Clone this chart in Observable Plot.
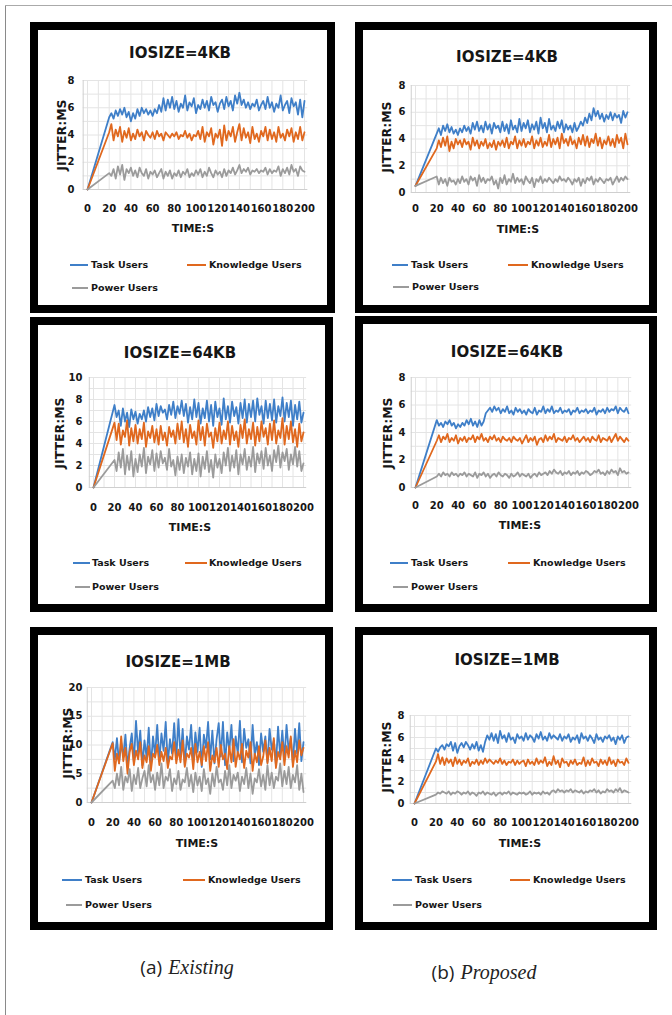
<!DOCTYPE html>
<html><head><meta charset="utf-8">
<script src="https://cdn.jsdelivr.net/npm/d3@7"></script>
<script src="https://cdn.jsdelivr.net/npm/@observablehq/plot@0.6"></script>
<style>
body{margin:0;background:#fff;}
#page{position:relative;width:672px;height:1015px;overflow:hidden;font-family:"DejaVu Sans",sans-serif;background:#fff;}
.rule{position:absolute;background:#8a8a8a;}
.panel{position:absolute;border:8px solid #000;box-sizing:border-box;background:#fff;}
.t{position:absolute;white-space:nowrap;font-weight:bold;color:#161616;line-height:1;}
.sw{position:absolute;height:2px;}
.plot{position:absolute;}
.plot svg text{font-weight:bold;}
.cap{position:absolute;white-space:nowrap;color:#222;font-size:19px;line-height:1;transform:translate(-50%,-50%);}
.cap .a{font-family:"Open Sans",sans-serif;}
.cap .b{font-family:"Liberation Serif",serif;font-style:italic;font-size:20px;}
</style></head>
<body><div id="page"></div>
<script>
// ---------- data ----------
const seriesNames = ["Task Users", "Knowledge Users", "Power Users"];
const xTicks = [0, 20, 40, 60, 80, 100, 120, 140, 160, 180, 200];
const ticks8 = [0, 2, 4, 6, 8];
const ticks10 = [0, 2, 4, 6, 8, 10];
const ticks20 = [0, 5, 10, 15, 20];
const panelTitles = ["IOSIZE=4KB", "IOSIZE=4KB", "IOSIZE=64KB", "IOSIZE=64KB", "IOSIZE=1MB", "IOSIZE=1MB"];
const xTitle = "TIME:S";
const yTitle = "JITTER:MS";
const captionA = ["(a)", "Existing"];
const captionB = ["(b)", "Proposed"];

// value at time 0 for each panel (Existing 4KB, Proposed 4KB, Existing 64KB, Proposed 64KB, Existing 1MB, Proposed 1MB)
const startValues = [0, 0.5, 0, 0, 0, 0];

// samples from t=20 to t=200 every 2 s
const ex4KB_task = [5.3,5.6,5.2,5.8,5.4,5.9,5.5,6.0,5.3,5.7,5.0,
 5.6,5.2,5.9,5.4,6.0,5.6,5.9,5.5,5.8,5.4, 5.9,5.6,6.2,5.7,6.7,5.8,6.6,6.0,6.8,5.9,
 6.5,5.7,6.3,6.0,6.9,5.8,6.4,6.1,6.7,5.6, 6.2,5.9,6.6,6.0,6.5,5.8,6.8,6.2,6.4,5.7,
 6.3,6.6,5.9,6.8,6.1,6.5,5.8,6.9,6.3,7.1, 6.2,6.6,6.0,6.4,5.9,6.3,6.1,6.6,5.8,6.2,
 6.5,5.9,6.8,6.0,6.4,5.7,6.3,6.0,6.9,5.8, 6.2,6.5,5.6,6.7,6.1,6.4,5.5,6.6,5.3,6.5];
const ex4KB_knowledge = [4.2,4.8,3.6,4.4,3.9,4.6,3.5,4.3,3.8,4.5,3.6,
 4.1,3.7,4.4,3.9,4.2,3.6,4.3,4.0,3.8,4.2, 3.7,4.3,3.9,4.1,3.6,4.2,4.0,3.8,4.1,3.9,
 4.2,3.7,4.0,3.9,4.3,3.8,4.1,3.6,4.0,3.9, 4.3,3.7,4.6,3.5,4.2,3.9,4.5,3.3,4.1,3.8,
 4.4,3.2,4.7,3.6,4.3,3.9,4.6,3.5,4.2,4.8, 3.6,4.5,3.8,4.2,3.4,4.6,3.7,4.1,3.5,4.3,
 3.9,4.6,3.6,4.4,3.7,4.2,3.5,4.6,3.8,4.1, 3.6,4.4,3.9,4.5,3.5,4.2,3.7,4.6,3.6,4.2];
const ex4KB_power = [1.2,1.0,1.5,0.8,1.7,1.1,1.8,0.7,1.5,1.2,1.6,
 1.0,1.4,0.9,1.6,1.2,1.0,1.5,0.8,1.3,1.1, 1.4,0.9,1.2,1.5,0.8,1.3,1.0,1.4,0.8,1.2,
 1.0,1.4,0.9,1.3,1.1,1.5,0.9,1.2,1.0,1.4, 1.1,1.5,0.9,1.3,1.0,1.6,1.2,0.9,1.4,1.1,
 1.3,0.9,1.5,1.0,1.4,1.2,1.6,1.1,1.4,1.8, 1.2,1.5,1.3,1.6,1.1,1.4,1.3,1.5,1.2,1.4,
 1.3,1.6,1.1,1.5,1.2,1.4,1.3,1.7,1.0,1.5, 1.2,1.6,1.1,1.8,1.3,1.5,1.0,1.7,1.4,1.3];

const pr4KB_task = [4.4,4.8,4.3,5.0,4.6,5.1,4.5,4.9,4.4,4.7,4.3,
 4.8,4.5,5.0,4.6,4.9,4.4,5.2,4.7,5.3,4.6, 5.0,4.5,5.3,4.7,5.1,4.4,5.2,4.8,5.0,4.5,
 5.3,4.6,5.1,4.4,5.4,4.7,5.0,4.5,5.5,4.6, 5.2,4.8,5.4,4.5,5.1,4.7,5.3,4.4,5.6,4.8,
 5.2,4.5,5.5,4.7,5.0,4.6,5.3,4.8,5.4,4.5, 5.1,4.7,5.0,4.5,5.2,4.6,4.9,5.3,5.0,5.6,
 5.2,5.9,5.4,6.3,5.7,6.1,5.5,5.9,5.3,5.8, 5.5,6.0,5.4,5.9,5.6,5.8,5.2,6.1,5.6,6.0];
const pr4KB_knowledge = [3.3,3.9,3.4,4.1,3.5,4.2,3.1,3.8,3.3,4.0,3.6,
 3.9,3.4,4.0,3.6,3.8,3.2,4.1,3.5,3.9,3.3, 3.8,3.5,4.0,3.3,3.7,3.4,3.9,3.2,3.8,3.5,
 3.9,3.4,4.1,3.3,3.8,3.6,4.2,3.3,3.9,3.5, 4.0,3.4,3.8,3.6,4.2,3.3,3.9,3.5,4.1,3.4,
 3.8,3.5,4.3,3.4,4.0,3.6,4.1,3.3,4.4,3.7, 4.0,3.5,4.2,3.6,3.9,3.3,4.1,3.6,4.3,3.5,
 4.2,3.4,4.0,3.7,4.4,3.5,4.1,3.3,3.9,3.6, 4.2,3.5,4.0,3.4,4.3,3.7,4.1,3.3,4.4,3.6];
const pr4KB_power = [1.2,0.6,1.1,0.7,1.0,0.5,1.1,0.8,0.9,0.6,1.0,
 0.7,1.2,0.8,1.0,0.6,1.2,0.9,1.1,0.5,1.3, 0.8,1.1,0.7,1.0,0.9,1.2,0.6,0.9,0.3,1.1,
 0.7,1.3,0.6,1.0,0.8,1.4,0.7,1.1,0.8,1.0, 0.6,1.2,0.9,0.7,1.1,0.4,1.0,0.8,1.2,0.7,
 1.0,0.8,1.1,0.9,0.7,1.0,0.8,1.2,0.9,1.0, 0.8,1.1,0.9,0.6,1.0,0.8,1.1,0.5,1.0,0.7,
 1.1,0.9,1.2,0.6,1.0,0.8,1.1,0.9,0.7,1.0, 0.9,1.1,0.6,0.9,1.2,0.8,1.1,0.9,1.2,1.0];

const ex64KB_task = [7.5,6.4,7.0,5.6,7.2,6.0,6.8,5.5,7.1,6.2,6.9,
 5.8,6.7,6.2,7.0,6.0,7.3,6.4,7.2,6.1,7.6, 6.5,7.4,6.8,7.1,6.2,7.5,6.6,7.8,6.3,7.4,
 6.7,7.9,6.5,7.6,5.9,7.3,6.2,8.0,6.4,7.7, 5.8,7.2,6.3,7.9,6.0,7.5,5.6,7.8,6.4,7.2,
 5.7,8.1,6.2,7.4,5.9,7.8,6.5,7.3,5.8,7.7, 6.3,8.0,5.9,7.6,6.4,7.9,6.0,8.1,6.6,7.4,
 5.8,7.9,6.3,7.6,6.1,8.0,5.9,7.4,6.5,8.2, 6.0,7.7,6.4,7.9,5.6,7.5,6.2,7.8,5.9,6.8];
const ex64KB_knowledge = [5.9,4.3,5.8,3.9,5.2,4.6,6.1,3.8,5.4,4.2,5.7,
 4.0,5.3,4.4,5.9,3.7,5.1,4.5,5.6,4.1,5.3, 3.9,5.6,4.3,5.0,3.8,5.5,4.6,5.2,4.0,5.8,
 4.4,6.0,4.1,5.3,3.7,5.7,4.5,5.1,3.9,6.1, 4.3,5.5,3.8,5.8,4.6,5.0,3.6,5.4,4.2,5.9,
 4.0,5.2,4.4,6.0,3.9,5.6,4.3,5.1,3.7,5.7, 4.5,6.2,4.0,5.3,4.4,5.9,3.8,5.5,4.2,6.0,
 4.6,5.4,3.9,5.8,4.3,6.1,4.0,5.2,4.5,6.3, 3.9,5.6,4.4,6.0,4.1,5.3,3.7,5.8,4.2,5.0];
const ex64KB_power = [2.5,1.5,3.2,1.8,3.5,1.2,2.9,1.6,3.3,1.0,2.6,
 1.4,3.0,1.9,3.6,1.3,2.8,2.1,3.4,1.5,3.1, 1.8,3.3,2.2,2.7,1.6,3.5,1.9,2.5,1.1,2.8,
 1.6,3.0,1.3,2.7,1.9,3.2,1.2,2.6,1.5,3.1, 1.0,2.8,1.7,3.3,1.4,2.5,0.9,3.0,1.8,2.6,
 1.3,3.2,2.0,3.6,1.5,2.9,1.8,3.4,1.2,3.0, 2.1,3.5,1.6,2.8,1.9,3.7,1.4,3.1,2.2,3.3,
 1.7,3.6,2.0,2.9,1.5,3.4,2.3,3.8,1.8,3.2, 2.4,3.5,1.6,3.0,2.1,3.7,1.9,3.3,1.5,2.2];

const pr64KB_task = [4.9,4.5,4.7,4.4,4.8,4.6,4.9,4.5,4.7,4.3,4.6,
 4.4,4.7,4.5,4.9,4.6,5.0,4.5,4.8,4.4,4.9, 4.5,4.8,5.4,5.6,5.8,5.5,5.9,5.6,5.8,5.4,
 5.7,5.5,5.9,5.4,5.6,5.3,5.8,5.5,5.7,5.4, 5.6,5.3,5.7,5.5,5.4,5.8,5.3,5.6,5.5,5.9,
 5.4,5.7,5.5,5.9,5.4,5.6,5.5,5.8,5.4,5.6, 5.5,5.7,5.3,5.6,5.5,5.8,5.4,5.6,5.5,5.7,
 5.4,5.6,5.5,5.8,5.3,5.6,5.5,5.7,5.4,5.8, 5.5,5.7,5.6,5.9,5.4,5.8,5.6,5.5,5.8,5.4];
const pr64KB_knowledge = [3.4,3.8,3.3,3.7,3.5,3.9,3.3,3.6,3.4,3.8,3.2,
 3.6,3.4,3.7,3.3,3.6,3.5,3.8,3.3,3.7,3.5, 3.9,3.4,3.6,3.3,3.7,3.5,3.8,3.4,3.6,3.3,
 3.7,3.5,3.4,3.6,3.3,3.7,3.5,3.4,3.6,3.2, 3.5,3.8,3.3,3.6,3.4,3.7,3.1,3.5,3.6,3.3,
 3.8,3.4,3.7,3.5,3.9,3.3,3.6,3.5,3.4,3.7, 3.3,3.6,3.5,3.8,3.4,3.6,3.3,3.5,3.7,3.4,
 3.6,3.3,3.7,3.5,3.4,3.8,3.3,3.6,3.5,3.4, 3.7,3.3,3.6,3.9,3.4,3.7,3.5,3.3,3.6,3.4];
const pr64KB_power = [0.8,1.0,0.8,1.1,0.9,1.0,0.8,1.1,0.9,1.0,0.8,
 1.0,0.9,1.1,0.8,1.0,0.9,0.8,1.1,0.7,1.0, 0.9,1.1,0.8,1.0,0.7,0.9,1.0,0.8,1.1,0.9,
 0.8,1.0,0.9,0.7,1.0,0.8,0.9,1.1,0.8,1.0, 0.9,0.8,1.0,0.7,0.9,1.0,0.8,1.1,0.9,1.0,
 1.1,0.9,1.2,1.0,1.3,1.1,1.0,1.2,0.9,1.1, 1.0,1.2,0.9,1.1,1.0,1.2,0.9,1.1,1.0,1.2,
 1.1,0.9,1.0,1.2,1.1,1.3,1.0,1.1,0.9,1.2, 1.0,1.3,1.1,1.2,0.9,1.4,1.1,1.2,1.0,1.1];

const ex1MB_task = [10.5,7.5,11.2,6.8,10.4,8.0,11.8,6.2,9.5,12.0,7.0,
 14.2,8.5,12.5,6.5,10.8,7.8,13.0,6.0,11.5,8.2, 13.5,7.2,12.0,9.0,14.0,6.8,11.0,8.5,13.8,7.5,
 14.5,8.0,12.8,6.5,11.5,9.2,13.5,7.0,12.2,8.8, 13.0,6.2,11.8,9.5,14.0,7.5,12.5,6.8,11.0,13.8,
 8.0,14.0,6.5,12.2,9.0,13.5,7.2,11.5,8.5,14.2, 7.0,12.8,9.5,11.0,6.8,13.5,8.2,10.5,6.5,12.0,
 8.8,11.5,7.0,12.8,9.2,10.8,6.5,13.2,8.0,12.5, 7.5,13.5,9.0,11.2,6.8,12.8,8.5,13.8,7.2,10.5];
const ex1MB_knowledge = [10.3,5.5,8.5,6.8,11.5,7.2,9.5,5.0,8.8,10.2,6.5,
 9.0,7.5,10.5,6.0,8.2,7.0,9.8,5.5,8.5,7.8, 10.0,6.5,8.8,7.2,9.5,6.0,8.0,7.5,10.5,6.8,
 9.2,7.0,10.8,6.2,8.5,7.8,9.5,5.8,10.2,7.0, 8.8,6.5,9.8,7.2,10.5,5.5,8.2,7.0,9.5,6.2,
 10.0,7.5,8.5,5.8,9.8,7.0,11.0,6.2,8.8,7.5, 10.2,6.0,9.0,7.8,10.5,5.5,8.5,7.0,9.8,6.5,
 8.0,10.8,6.8,9.5,7.2,11.2,6.0,8.8,7.5,10.5, 6.5,9.8,7.8,11.5,6.2,9.0,7.0,10.8,8.2,9.5];
const ex1MB_power = [3.8,2.5,5.0,3.0,6.2,2.2,4.5,3.5,5.8,2.0,4.8,
 3.2,6.0,2.5,4.2,5.5,2.8,6.5,3.5,4.8,2.2, 5.2,3.0,6.8,2.5,4.5,3.8,5.8,2.0,4.2,3.2,
 5.5,2.2,4.0,3.5,6.0,2.8,4.8,1.8,5.2,3.0, 4.5,2.0,5.8,3.2,4.2,1.5,5.0,2.8,6.2,3.5,
 4.0,2.2,5.5,3.0,6.5,2.5,4.8,3.8,5.2,2.0, 4.5,3.2,6.0,2.5,5.0,1.5,4.2,3.5,5.8,2.8,
 4.8,2.2,6.5,3.0,5.2,2.5,4.5,3.8,6.8,2.8, 5.5,3.2,6.2,2.5,4.8,3.5,6.5,2.2,5.0,1.8];

const pr1MB_task = [5.0,4.7,5.1,5.3,4.9,5.4,5.2,5.6,4.8,5.5,4.6,
 5.2,5.5,5.1,5.6,5.3,4.9,5.4,5.0,5.6,4.8, 5.3,4.7,5.6,6.2,5.8,6.4,5.7,6.3,5.5,6.6,
 5.9,6.2,5.6,6.4,5.8,6.0,5.5,6.3,5.9,6.1, 5.7,6.4,5.8,6.2,6.0,5.6,6.3,5.9,6.5,5.8,
 6.1,5.7,6.4,5.9,6.2,6.0,5.8,6.3,5.7,6.1, 5.9,6.3,5.6,6.0,5.8,6.2,5.5,6.4,5.9,6.1,
 5.7,6.2,5.9,5.5,6.3,5.8,6.0,5.6,6.1,5.9, 6.2,5.7,6.0,5.4,6.1,5.8,6.2,5.5,6.0,6.1];
const pr1MB_knowledge = [3.8,4.5,3.6,4.2,3.5,4.1,3.7,4.0,3.4,4.2,3.6,
 4.0,3.5,3.9,3.7,4.1,3.4,3.8,3.6,4.0,3.5, 3.9,3.6,4.1,3.7,4.0,3.8,3.6,3.9,3.7,4.1,
 3.6,3.9,3.5,3.8,3.7,4.0,3.5,3.9,3.6,3.8, 3.9,3.4,4.0,3.6,3.8,3.5,4.1,3.6,3.9,3.7,
 4.2,3.4,3.8,3.5,4.3,3.6,3.9,3.3,4.1,3.7, 3.8,3.4,3.9,3.6,4.0,3.5,3.7,3.6,4.2,3.4,
 3.9,3.5,4.1,3.7,3.8,3.4,4.0,3.6,3.9,3.5, 4.2,3.6,3.9,3.4,4.0,3.7,3.8,3.5,4.1,3.7];
const pr1MB_power = [0.8,1.0,0.9,1.1,1.0,0.9,1.1,0.8,1.0,0.9,1.1,
 1.0,0.8,1.0,0.9,1.1,0.8,1.0,0.9,0.7,1.0, 0.9,1.1,0.8,1.0,0.9,0.8,1.0,0.7,0.9,1.0,
 0.8,1.0,0.9,1.1,0.8,1.0,0.9,0.8,1.0,0.9, 1.0,0.8,0.9,1.1,0.8,1.0,0.9,1.0,0.8,1.1,
 0.9,1.0,0.8,1.1,1.2,1.0,1.3,1.1,1.2,1.0, 1.2,1.1,1.3,1.0,1.2,1.1,1.0,1.2,0.9,1.1,
 1.0,1.2,1.1,1.3,1.0,1.2,0.9,1.1,1.0,1.3, 1.1,1.2,1.0,1.3,1.1,1.4,1.0,1.2,1.1,1.0];

// ---------- styling / layout ----------
const colors = ["#3f7fc8", "#e0681e", "#9b9b9b"];
const panels = [
  {box:[30,22,335,313], title:[180,53], x0:87, x200:304, yTop:80, yBot:189, ticks:ticks8, grid:1, yTickRight:74, xTickY:208, xLab:[193,228], yLab:[62,135], leg:{r1:265, r2:288, a:[70,88,91], b:[187,206,209], c:[72,88,91]}, series:[ex4KB_task, ex4KB_knowledge, ex4KB_power]},
  {box:[355,22,657,313], title:[507,57], x0:415, x200:627, yTop:85, yBot:192, ticks:ticks8, grid:1, yTickRight:405, xTickY:208, xLab:[518,229], yLab:[387,137], leg:{r1:265, r2:287, a:[392,408,411], b:[508,528,531], c:[393,409,412]}, series:[pr4KB_task, pr4KB_knowledge, pr4KB_power]},
  {box:[30,317,333,612], title:[180,353], x0:93, x200:303, yTop:377, yBot:487, ticks:ticks10, grid:1, yTickRight:82, xTickY:507, xLab:[190,527], yLab:[60,433], leg:{r1:563, r2:587, a:[73,90,92], b:[185,207,209], c:[75,90,92]}, series:[ex64KB_task, ex64KB_knowledge, ex64KB_power]},
  {box:[355,316,657,612], title:[507,352], x0:415, x200:628, yTop:377, yBot:487, ticks:ticks8, grid:1, yTickRight:405, xTickY:505, xLab:[520,525], yLab:[388,433], leg:{r1:563, r2:587, a:[390,408,411], b:[508,530,533], c:[393,408,411]}, series:[pr64KB_task, pr64KB_knowledge, pr64KB_power]},
  {box:[30,627,333,930], title:[178,662], x0:91, x200:303, yTop:687, yBot:802, ticks:ticks20, grid:2.5, yTickRight:82, xTickY:822, xLab:[197,843], yLab:[68,743], leg:{r1:880, r2:905, a:[62,82,85], b:[183,205,208], c:[66,82,85]}, series:[ex1MB_task, ex1MB_knowledge, ex1MB_power]},
  {box:[355,627,657,930], title:[507,660], x0:414, x200:628, yTop:715, yBot:803, ticks:ticks8, grid:1, yTickRight:404, xTickY:822, xLab:[520,843], yLab:[387,757], leg:{r1:880, r2:905, a:[392,412,415], b:[510,530,533], c:[393,412,415]}, series:[pr1MB_task, pr1MB_knowledge, pr1MB_power]}
];

const page = document.getElementById("page");
function el(cls, css, html) {
  const d = document.createElement("div");
  d.className = cls;
  Object.assign(d.style, css);
  if (html != null) d.innerHTML = html;
  page.appendChild(d);
  return d;
}
// outer thin frame
el("rule", {left:"5px", top:"5px", width:"1px", height:"1010px"});
el("rule", {left:"5px", top:"5px", width:"667px", height:"1px", background:"#aaa"});

function toRows(values, start) {
  const n = values.length;
  const rows = [{t: 0, v: start}];
  values.forEach((v, i) => rows.push({t: 20 + i * 180 / (n - 1), v}));
  return rows;
}

panels.forEach((p, pi) => {
  const [L, T, R, B] = p.box;
  el("panel", {left:L+"px", top:T+"px", width:(R-L)+"px", height:(B-T)+"px"});
  const iL = L + 8, iT = T + 8, iR = R - 8, iB = B - 8;
  const k = (p.x200 - p.x0) / 200;
  const fl = p.x0 - 4 * k, fr = p.x200 + 3 * k;
  const ymax = p.ticks[p.ticks.length - 1];
  const minor = d3.range(0, ymax + 0.001, p.grid);
  const marks = [
    Plot.gridX(d3.range(0, 201, 10), {stroke: "#e4e4e4", strokeOpacity: 1}),
    Plot.gridY(minor, {stroke: "#e4e4e4", strokeOpacity: 1}),
    Plot.ruleX([-4], {stroke: "#cfcfcf"}),
    Plot.ruleY([0], {stroke: "#cfcfcf"}),
    Plot.axisX(xTicks, {tickSize: 0, tickPadding: p.xTickY - p.yBot - 4, label: null, fontWeight: "bold", fontSize: 10}),
    Plot.axisY(p.ticks, {tickSize: 0, tickPadding: fl - p.yTickRight, label: null, fontWeight: "bold", fontSize: 10})
  ];
  p.series.forEach((vals, si) => {
    marks.push(Plot.line(toRows(vals, startValues[pi]), {x: "t", y: "v", stroke: colors[si], strokeWidth: 1.8}));
  });
  const svg = Plot.plot({
    width: iR - iL, height: iB - iT,
    marginLeft: fl - iL, marginRight: iR - fr, marginTop: p.yTop - iT, marginBottom: iB - p.yBot,
    x: {domain: [-4, 203]},
    y: {domain: [0, ymax]},
    style: {fontFamily: "DejaVu Sans", fontSize: "10px", fontWeight: "bold", color: "#161616", background: "transparent", overflow: "visible"},
    marks
  });
  const holder = el("plot", {left: iL + "px", top: iT + "px"});
  holder.appendChild(svg);

  // title and axis titles
  el("t", {left: p.title[0]+"px", top: p.title[1]+"px", fontSize: "15px", transform: "translate(-50%,-50%)"}, panelTitles[pi]);
  el("t", {left: p.xLab[0]+"px", top: p.xLab[1]+"px", fontSize: "11px", transform: "translate(-50%,-50%)"}, xTitle);
  el("t", {left: p.yLab[0]+"px", top: p.yLab[1]+"px", fontSize: "12.5px", transform: "translate(-50%,-50%) rotate(-90deg)"}, yTitle);

  // legend
  const rows = [[p.leg.a, p.leg.r1], [p.leg.b, p.leg.r1], [p.leg.c, p.leg.r2]];
  rows.forEach(([sp, y], si) => {
    el("sw", {left: sp[0]+"px", top: (y-1)+"px", width: (sp[1]-sp[0])+"px", background: colors[si]});
    el("t", {left: sp[2]+"px", top: y+"px", fontSize: "9.5px", transform: "translate(0,-50%)"}, seriesNames[si]);
  });
});

// captions
el("cap", {left: "187px", top: "967px"}, `<span class="a">${captionA[0]}</span> <span class="b">${captionA[1]}</span>`);
el("cap", {left: "484px", top: "972px"}, `<span class="a">${captionB[0]}</span> <span class="b">${captionB[1]}</span>`);
</script>
</body></html>
